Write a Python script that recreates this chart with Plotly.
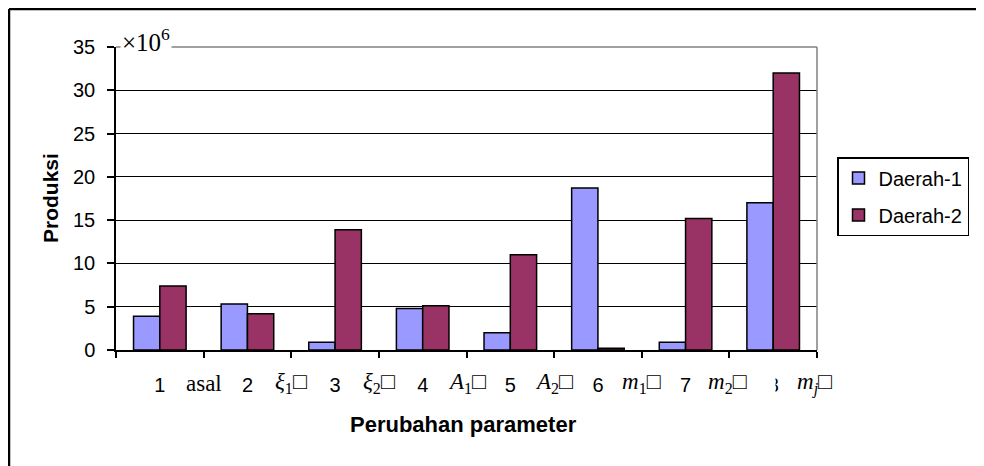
import plotly.graph_objects as go

categories = ["1", "2", "3", "4", "5", "6", "7", "8"]
daerah1 = [3.9, 5.3, 0.9, 4.8, 2.0, 18.7, 0.9, 17.0]
daerah2 = [7.4, 4.2, 13.9, 5.1, 11.0, 0.2, 15.2, 32.0]
param_labels = ["asal", "<i>ξ</i><sub>1</sub>□", "<i>ξ</i><sub>2</sub>□", "<i>A</i><sub>1</sub>□",
                "<i>A</i><sub>2</sub>□", "<i>m</i><sub>1</sub>□", "<i>m</i><sub>2</sub>□",
                "<i>m</i><sub><i>j</i></sub>□"]
y_ticks = [0, 5, 10, 15, 20, 25, 30, 35]

# page has an 8px body margin; figure sized to fill the rest of the window
OFF = 8
W, H = 984 - OFF, 466 - OFF
L, R, T, B = 116, 817, 47, 350  # plot area in window pixels


def px(x):
    return (x - L) / (R - L)


def py(y):
    return (B - y) / (B - T)


fig = go.Figure()
fig.add_trace(go.Bar(x=categories, y=daerah1, name="Daerah-1", legendgroup="a",
                     marker=dict(color="#9999FF", line=dict(color="black", width=1.5))))
fig.add_trace(go.Bar(x=categories, y=daerah2, name="Daerah-2", legendgroup="b",
                     marker=dict(color="#993366", line=dict(color="black", width=1.5))))

annotations = []
for i, lab in enumerate(param_labels):
    a = dict(x=i + 0.5, xref="x", y=py(383), yref="paper", text=lab, showarrow=False,
             font=dict(family="Liberation Serif", size=23, color="black"),
             xanchor="center", yanchor="middle", bgcolor="white")
    if i == 6:
        # this label's white box overlaps the "8" tick label, as in the reference
        a.update(width=66, align="left", xshift=12)
    if i == 7:
        a.update(xshift=-3)
    annotations.append(a)

annotations.append(dict(x=px(120), y=py(40), xref="paper", yref="paper", text="×10<sup>6</sup>",
                        showarrow=False, xanchor="left", yanchor="middle", bgcolor="white",
                        font=dict(family="Liberation Serif", size=25, color="black")))
annotations.append(dict(x=px(463), y=py(424), xref="paper", yref="paper",
                        text="<b>Perubahan parameter</b>", showarrow=False,
                        xanchor="center", yanchor="middle",
                        font=dict(family="Liberation Sans", size=22, color="black")))
annotations.append(dict(x=px(50), y=py(198), xref="paper", yref="paper",
                        text="<b>Produksi</b>", showarrow=False, textangle=-90,
                        xanchor="center", yanchor="middle",
                        font=dict(family="Liberation Sans", size=21, color="black")))

shapes = [
    dict(type="line", xref="paper", yref="paper", x0=0, x1=1, y0=1, y1=1,
         line=dict(color="#808080", width=1.5), layer="above"),
    dict(type="line", xref="paper", yref="paper", x0=1, x1=1, y0=0, y1=1,
         line=dict(color="#808080", width=1.5), layer="above"),
    dict(type="line", xref="paper", yref="paper", x0=px(9), x1=px(1000), y0=py(9), y1=py(9),
         line=dict(color="black", width=2.5), layer="above"),
    dict(type="line", xref="paper", yref="paper", x0=px(9), x1=px(9), y0=py(9), y1=py(480),
         line=dict(color="black", width=2.5), layer="above"),
]

fig.update_layout(
    width=W, height=H,
    margin=dict(l=L - OFF, r=984 - R, t=T - OFF, b=466 - B, autoexpand=False),
    paper_bgcolor="white", plot_bgcolor="white",
    barmode="group", bargap=0.4, bargroupgap=0,
    font=dict(family="Liberation Sans", color="black"),
    showlegend=True,
    legend=dict(x=px(837), y=py(157), xanchor="left", yanchor="top",
                font=dict(family="Liberation Sans", size=20, color="black"),
                bordercolor="black", borderwidth=1.5, bgcolor="white",
                traceorder="grouped", tracegroupgap=8),
    xaxis=dict(type="category", range=[-0.5, len(categories) - 0.5], autorange=False,
               showline=True, linecolor="black", linewidth=1.5,
               ticks="outside", tickson="boundaries", ticklen=6, tickcolor="black", tickwidth=1.5,
               tickfont=dict(family="Liberation Sans", size=20, color="black"),
               ticklabelstandoff=16, showgrid=False, fixedrange=True),
    yaxis=dict(range=[0, 35], tickvals=y_ticks, showline=True, linecolor="black", linewidth=1.5,
               ticks="outside", ticklen=7, tickcolor="black", tickwidth=1.5,
               tickfont=dict(family="Liberation Sans", size=20, color="black"),
               ticklabelstandoff=8,
               showgrid=True, gridcolor="black", gridwidth=1, zeroline=False, fixedrange=True),
    annotations=annotations,
    shapes=shapes,
)

fig.write_html("out.html")
